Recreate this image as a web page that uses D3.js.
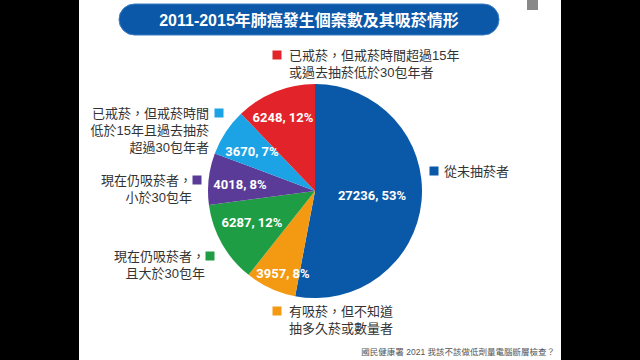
<!DOCTYPE html>
<html><head><meta charset="utf-8">
<script src="https://cdn.jsdelivr.net/npm/d3@7"></script>
<style>
html,body{margin:0;padding:0;background:#000;}
svg{display:block;}
text{font-family:"Liberation Sans","Noto Sans CJK TC","Noto Sans CJK SC",sans-serif;}
</style></head>
<body>
<svg id="c" width="640" height="360"></svg>
<script>
const title = "2011-2015年肺癌發生個案數及其吸菸情形";
const categories = ["從未抽菸者","有吸菸，但不知道抽多久菸或數量者","現在仍吸菸者，且大於30包年","現在仍吸菸者，小於30包年","已戒菸，但戒菸時間低於15年且過去抽菸超過30包年者","已戒菸，但戒菸時間超過15年或過去抽菸低於30包年者"];
const values = [27236, 3957, 6287, 4018, 3670, 6248];
const percents = ["53%","8%","12%","8%","7%","12%"];
const legendLines = [["從未抽菸者"],["有吸菸，但不知道","抽多久菸或數量者"],["現在仍吸菸者，","且大於30包年"],["現在仍吸菸者，","小於30包年"],["已戒菸，但戒菸時間","低於15年且過去抽菸","超過30包年者"],["已戒菸，但戒菸時間超過15年","或過去抽菸低於30包年者"]];
const colors = ["#0a58a8","#f39a12","#1f9d45","#5a3c98","#1ba3e6","#e2242a"];
const source = "國民健康署 2021 我該不該做低劑量電腦斷層檢查？";

const svg = d3.select("#c");
svg.append("rect").attr("x",79).attr("y",0).attr("width",482).attr("height",360).attr("fill","#fff");
svg.append("rect").attr("x",527).attr("y",0).attr("width",11).attr("height",10).attr("fill","#888");

svg.append("rect").attr("x",119).attr("y",4).attr("width",380).attr("height",31).attr("rx",15.5)
  .attr("fill","#0b57a8").attr("stroke","#3a7cc4").attr("stroke-width",1);
svg.append("text").attr("x",309).attr("y",25.5).attr("text-anchor","middle")
  .attr("fill","#fff").attr("font-size",16).attr("font-weight","bold").text(title);

const cx = 315, cy = 191, r = 107;
const pie = d3.pie().sort(null).value(d=>d)(values);
const arc = d3.arc().innerRadius(0).outerRadius(r);
const g = svg.append("g").attr("transform",`translate(${cx},${cy})`);
g.selectAll("path").data(pie).join("path").attr("d",arc).attr("fill",(d,i)=>colors[i]);

const labelPos = [[57,4],[-32,82],[-63,31],[-75,-7],[-63,-40],[-32,-74]];
g.selectAll("text.v").data(pie).join("text").attr("class","v")
  .attr("x",(d,i)=>labelPos[i][0]).attr("y",(d,i)=>labelPos[i][1]+5)
  .attr("text-anchor","middle").attr("fill","#fff").attr("font-size",13).attr("font-weight","bold")
  .style("font-family","Roboto, 'Liberation Sans', sans-serif")
  .text((d,i)=>`${values[i]}, ${percents[i]}`);

const legend = [
  {sq:[434,171], anchor:"start", tx:444, ty:171},
  {sq:[277,311], anchor:"start", tx:289, ty:311},
  {sq:[210,256], anchor:"end", tx:205, ty:256},
  {sq:[197,180], anchor:"end", tx:192, ty:180},
  {sq:[219,113], anchor:"end", tx:209, ty:113},
  {sq:[277,55], anchor:"start", tx:289, ty:55}
];
legend.forEach((L,i)=>{
  svg.append("rect").attr("x",L.sq[0]-4.5).attr("y",L.sq[1]-4.5).attr("width",9).attr("height",9).attr("fill",colors[i]);
  const t = svg.append("text").attr("text-anchor",L.anchor).attr("fill","#333").attr("font-size",13);
  legendLines[i].forEach((s,j)=>{
    t.append("tspan").attr("x",L.tx).attr("y",L.ty+5+j*17).text(s);
  });
});

svg.append("text").attr("x",555).attr("y",355).attr("text-anchor","end").attr("fill","#555")
  .attr("font-size",8.5).text(source);
</script>
</body></html>
